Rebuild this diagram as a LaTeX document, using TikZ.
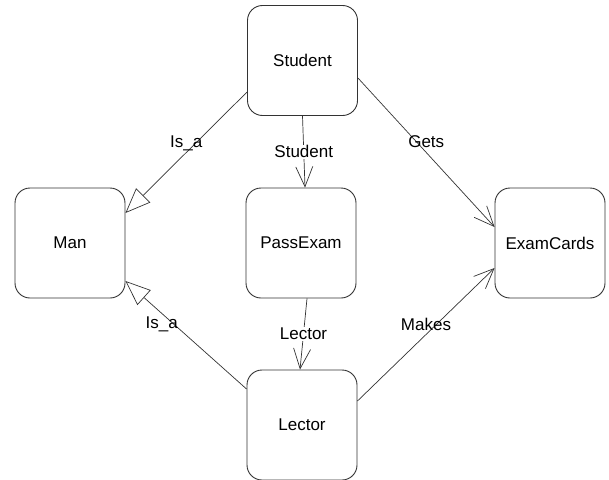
\documentclass[tikz,border=0pt]{standalone}
\usepackage{fontspec}
\setmainfont{Liberation Sans}
\usetikzlibrary{arrows.meta}
\begin{document}
\begin{tikzpicture}[x=1pt,y=-1pt,
        box/.style = {draw=black!80,line width=0.9pt,rounded corners=15pt,minimum width=110pt,minimum height=110pt,
                      font=\fontsize{17}{20}\selectfont},
        isa/.style = {draw=black!80,line width=0.7pt,-{Triangle[open,length=25pt,width=20pt]}},
        rel/.style = {draw=black!80,line width=0.7pt,-{Straight Barb[length=20pt,width=17pt]}},
        lbl/.style = {font=\fontsize{17}{20}\selectfont,inner sep=1pt}]
    \useasboundingbox (0,0) rectangle (609,479);

    \node[box] (student)   at (302.5,60.5) {Student};
    \node[box] (man)       at (70,243)     {Man};
    \node[box] (passexam)  at (301,243)    {PassExam};
    \node[box] (examcards) at (550,243)    {ExamCards};
    \node[box] (lector)    at (302,425)    {Lector};

    \draw[isa] ([yshift=-31.5pt]student.west) -- node[lbl,above]{Is\_a} ([yshift=30pt]man.east);
    \draw[isa] ([yshift=36pt]lector.west) -- node[lbl,pos=0.7,below=2pt]{Is\_a} ([yshift=-38pt]man.east);
    \draw[rel] (student.south) -- node[lbl,fill=white]{Student} ([xshift=4pt]passexam.north);
    \draw[rel] ([xshift=6pt]passexam.south) -- node[lbl,fill=white]{Lector} ([xshift=-2pt]lector.north);
    \draw[rel] ([yshift=-17.5pt]student.east) -- node[lbl,above=3pt]{Gets} ([yshift=16pt]examcards.west);
    \draw[rel] ([yshift=24pt]lector.east) -- node[lbl,above=2pt]{Makes} ([yshift=-25pt]examcards.west);
\end{tikzpicture}
\end{document}
